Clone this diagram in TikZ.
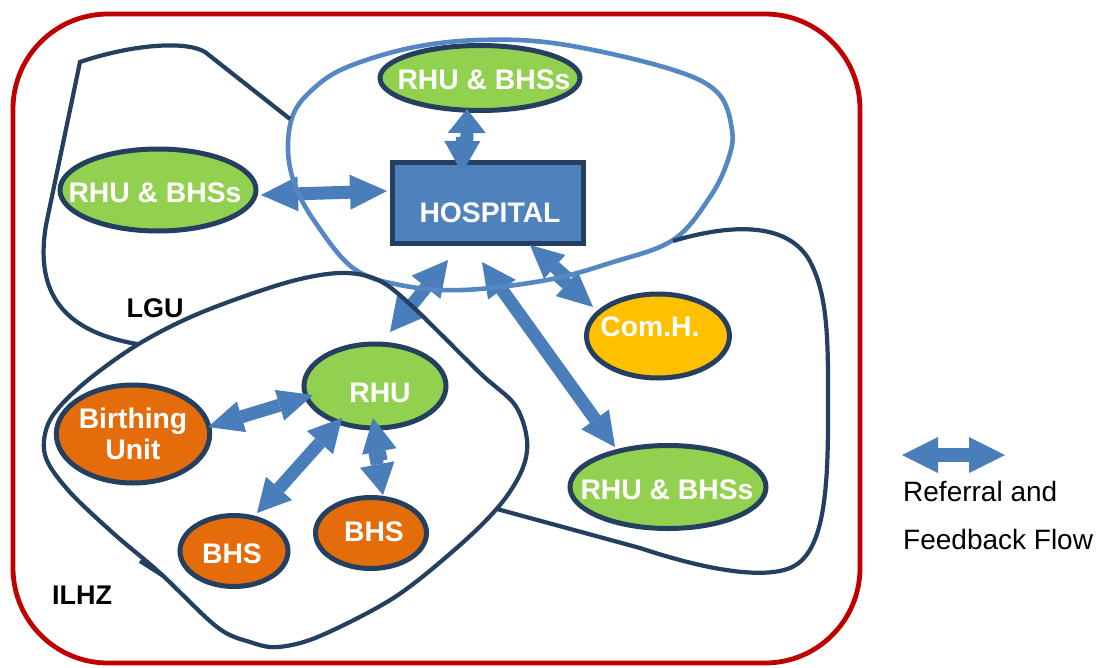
\documentclass[tikz,border=0pt]{standalone}
\usepackage{fontspec}
\setmainfont{Liberation Sans}
\usetikzlibrary{arrows.meta,calc,shapes.geometric}
\definecolor{navy}{HTML}{243F60}
\definecolor{hospblue}{HTML}{4F81BD}
\definecolor{lineblue}{HTML}{5487C4}
\definecolor{arrowblue}{HTML}{4A7EBB}
\definecolor{rgreen}{HTML}{92D050}
\definecolor{rorange}{HTML}{E46C0A}
\definecolor{ryellow}{HTML}{FFC000}
\definecolor{rred}{HTML}{C00000}
\newcommand{\tlab}[3]{\raisebox{-#2pt}[\height][\depth]{\makebox[0pt]{\hspace*{#1pt}\hspace*{#1pt}#3}}}
\tikzset{
  outline/.style={draw=navy, line width=4.2pt},
  unit/.style={ellipse, draw=navy, line width=5pt, inner sep=0pt, text=white,
    font=\bfseries\fontsize{28.3}{31}\selectfont, align=center},
  gunit/.style={unit, fill=rgreen},
  ounit/.style={unit, fill=rorange},
  yunit/.style={unit, fill=ryellow},
  zonelabel/.style={inner sep=0pt, text=black, font=\bfseries\fontsize{27}{30}\selectfont},
  legtext/.style={inner sep=0pt, anchor=west, text=black, font=\fontsize{28}{30}\selectfont},
  flow/.style 2 args={draw=arrowblue, line width=13pt,
    {Triangle[length=#1pt,width=#2pt,line width=0pt]}-{Triangle[length=#1pt,width=#2pt,line width=0pt]}},
  flowto/.style 2 args={draw=arrowblue, line width=13pt,
    -{Triangle[length=#1pt,width=#2pt,line width=0pt]}},
}
\begin{document}
\begin{tikzpicture}[x=1pt,y=-1pt]
\path[use as bounding box, fill=white] (0,0) rectangle (1100,667);

% ---------- nodes ----------
\node[gunit, minimum width=200pt, minimum height=65pt] (top) at (480,78) {\tlab{4}{2}{RHU \& BHSs}};
\node[gunit, minimum width=196pt, minimum height=82pt] (rhuL) at (158,190) {\tlab{-3}{3}{RHU \& BHSs}};
\node[draw=navy, line width=5pt, fill=hospblue, minimum width=191pt, minimum height=81pt,
      inner sep=0pt, text=white, font=\bfseries\fontsize{28.3}{31}\selectfont] (hosp) at (487.5,202.5) {\tlab{2.5}{10.5}{HOSPITAL}};
\node[yunit, minimum width=143pt, minimum height=84pt] (comh) at (658,336) {\tlab{-8}{-9}{Com.H.}};
\node[gunit, minimum width=196pt, minimum height=83pt] (rhuR) at (668,487) {\tlab{-1}{3}{RHU \& BHSs}};
\node[gunit, minimum width=142pt, minimum height=84pt] (rhu) at (375,386) {\tlab{5}{7}{RHU}};
\node[ounit, minimum width=146pt, minimum height=98pt] (birth) at (133,434) {Birthing\\Unit};
\node[ounit, minimum width=108pt, minimum height=71pt] (bhs1) at (234,551) {\tlab{-2}{3}{BHS}};
\node[ounit, minimum width=111pt, minimum height=71pt] (bhs2) at (371,533) {\tlab{3}{-1}{BHS}};

% ---------- referral and feedback arrows ----------
% RHU & BHSs (top) <-> hospital (kinked)
\path ([xshift=-13pt,yshift=-31pt]top.center) coordinate (a1)
      ([xshift=-25.5pt,yshift=29.5pt]hosp.center) coordinate (b1);
\draw[flowto={24}{38}] ($(a1)!0.56!(b1)!2.5pt!90:(b1)$) -- (a1);
\draw[flowto={32}{36}] ($(b1)!0.56!(a1)!2.5pt!90:(a1)$) -- (b1);
% RHU & BHSs (left) <-> hospital
\draw[flow={37}{35}] ([xshift=103pt,yshift=-5pt]rhuL.center) -- ([xshift=-100.5pt,yshift=11.5pt]hosp.center);
% hospital <-> RHU
\draw[flow={35}{37}] ([xshift=-39.5pt,yshift=-57.5pt]hosp.center) -- ([xshift=15pt,yshift=54pt]rhu.center);
% hospital <-> RHU & BHSs (right)
\draw[flow={34}{34}] ([xshift=-5.5pt,yshift=-59.5pt]hosp.center) -- ([xshift=-53pt,yshift=40pt]rhuR.center);
% hospital <-> Com.H. (kinked)
\path ([xshift=42.5pt,yshift=-42.5pt]hosp.center) coordinate (a5)
      ([xshift=-65pt,yshift=29pt]comh.center) coordinate (b5);
\draw[flowto={33}{32}] ($(a5)!0.56!(b5)!2.5pt!90:(b5)$) -- (a5);
\draw[flowto={35}{33}] ($(b5)!0.56!(a5)!2.5pt!90:(a5)$) -- (b5);
% RHU <-> Birthing Unit
\draw[flow={35}{32}] ([xshift=-62pt,yshift=-9pt]rhu.center) -- ([xshift=75pt,yshift=7pt]birth.center);
% RHU <-> BHS (left)
\draw[flow={33}{35}] ([xshift=-33pt,yshift=-32pt]rhu.center) -- ([xshift=23pt,yshift=38pt]bhs1.center);
% RHU <-> BHS (right) (kinked)
\path ([xshift=-2pt,yshift=-32pt]rhu.center) coordinate (a8)
      ([xshift=12pt,yshift=38pt]bhs2.center) coordinate (b8);
\draw[flowto={34}{35}] ($(a8)!0.56!(b8)!2.5pt!90:(b8)$) -- (a8);
\draw[flowto={31}{35}] ($(b8)!0.56!(a8)!2.5pt!90:(a8)$) -- (b8);

% ---------- zone outlines ----------
% hospital zone (light blue)
\draw[draw=lineblue, line width=4.6pt] plot[smooth cycle, tension=0.6] coordinates {
  (288,150) (293,115) (312,90) (345,68) (410,48) (480,40) (560,44) (667,68) (717,92)
  (732,130) (728,160) (710,197) (673,240) (610,263) (547,280) (463,290) (400,285)
  (353,268) (315,222) (295,185)};
% LGU (upper left part)
\draw[outline] (290,119) -- (205,52) .. controls (185,40) and (130,45) .. (80,62)
  -- (46,225) .. controls (36,285) and (55,330) .. (137,344);
% LGU (right part)
\draw[outline] (673,241) .. controls (730,224) and (785,222) .. (808,258)
  .. controls (830,295) and (828,350) .. (828,420)
  .. controls (828,500) and (822,555) .. (790,568)
  .. controls (760,580) and (700,568) .. (640,548) -- (497,509);
% ILHZ
\draw[outline] plot[smooth cycle, tension=0.55] coordinates {
  (278,647) (320,636) (395,597) (460,545) (500,505) (522,470) (527,440) (515,405)
  (480,373) (413,307) (378,280) (340,273) (285,283) (200,313) (137,345) (82,385)
  (50,420) (45,455) (68,490) (113,533) (160,573) (217,627) (250,642)};
\draw[outline] (162,575) -- (140,561);

% outer boundary
\draw[draw=rred, line width=4.8pt, rounded corners=95pt] (13,14) rectangle (860,663);

% ---------- zone labels ----------
\node[zonelabel] (lgu) at (155,308) {LGU};
\node[zonelabel] (ilhz) at (82,595) {ILHZ};

% ---------- legend ----------
\coordinate (lgA) at (902,455);
\coordinate (lgB) at (1005,455);
\draw[flow={36}{36}, line width=14pt] (lgA) -- (lgB);
\node[legtext] (leg1) at (903,491) {Referral and};
\node[legtext] (leg2) at (903,539) {Feedback Flow};
\end{tikzpicture}
\end{document}
